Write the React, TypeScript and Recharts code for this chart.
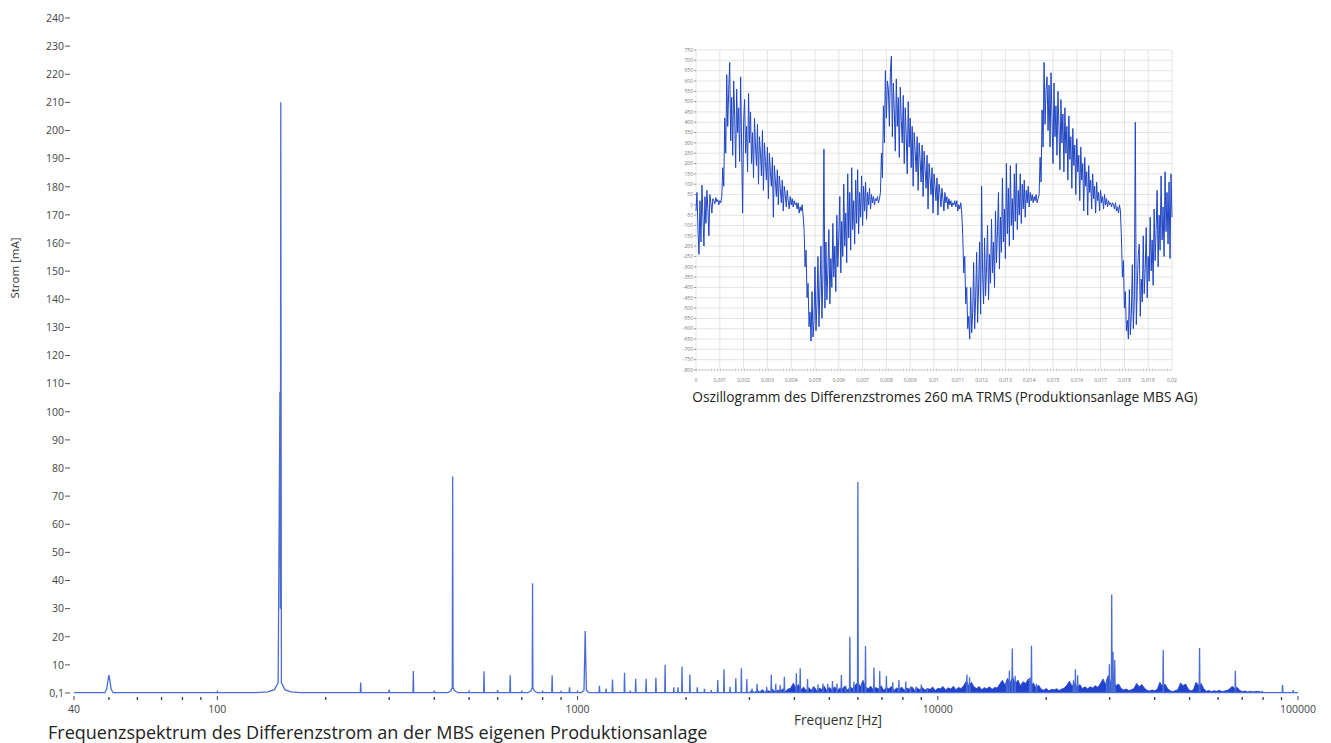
import { ComposedChart, LineChart, Line, Area, XAxis, YAxis, CartesianGrid } from 'recharts'

// Frequenzspektrum: Grundlinie bei ~0,1 mA, Oberschwingungen als Spitzen
const BASE = 0.1

const freqTicks = [
  40, 50, 60, 70, 80, 90, 100, 200, 300, 400, 500, 600, 700, 800, 900,
  1000, 2000, 3000, 4000, 5000, 6000, 7000, 8000, 9000,
  10000, 20000, 30000, 40000, 50000, 60000, 70000, 80000, 90000, 100000,
]
const freqLabels = [40, 100, 1000, 10000, 100000]
const currentTicks = [0, 10, 20, 30, 40, 50, 60, 70, 80, 90, 100, 110, 120, 130, 140, 150, 160, 170, 180, 190, 200, 210, 220, 230, 240]

const hump50 = [[48.7, 0.1], [49.3, 1.5], [49.7, 4.5], [50, 6.4], [50.3, 4.5], [50.7, 1.5], [51.3, 0.1]]
const hump150 = [[128, 0.1], [138, 0.4], [144, 1.2], [147.5, 3.6], [149.2, 107], [149.6, 30], [150, 210], [150.6, 3.6], [154, 1.2], [160, 0.4], [170, 0.1]]
const hump450 = [[436, 0.1], [445, 0.8], [449, 2], [450, 77], [451.2, 2], [456, 0.8], [466, 0.1]]
const hump750 = [[728, 0.1], [742, 0.8], [748.5, 2], [750, 39], [751.5, 2], [758, 0.8], [772, 0.1]]
const hump1050 = [[1025, 0.1], [1042, 1], [1050, 22], [1058, 1], [1075, 0.1]]

// schmale Spitzen [Hz, mA]
const harmonics = [
  [100, 0.5], [250, 3.7], [300, 1.2], [350, 7.8], [400, 0.8], [500, 0.6], [550, 7.7], [600, 1],
  [650, 6.3], [700, 0.8], [800, 0.5], [850, 6.3], [900, 0.5], [950, 2], [1000, 0.5],
  [1150, 2.6], [1200, 1.6], [1250, 4.8], [1350, 7.2], [1400, 0.8], [1450, 5.1], [1550, 5.1],
  [1650, 5.4], [1750, 10], [1850, 2], [1900, 2], [1950, 9.4], [2050, 6.6], [2150, 2], [2250, 1.5],
  [2350, 1], [2450, 4.6], [2550, 8.4], [2650, 2.2], [2750, 5.2], [2850, 8.8], [2950, 5], [3050, 1.6],
  [3150, 3.3], [3350, 2.2], [3450, 6.5], [3550, 3.3], [3650, 2.8], [3750, 5.8], [4050, 7], [4150, 8.8],
  [4350, 5], [4500, 2], [4650, 3], [4800, 3.4], [4950, 3.3], [5100, 4.3], [5250, 3.4], [5400, 6.4],
  [5550, 2.6], [5700, 20], [5850, 4], [6000, 75], [6150, 3.5], [6300, 16.7], [6650, 9.1], [6900, 7.8],
  [7200, 6], [7500, 3.8], [7800, 4.6], [8150, 4.1], [8400, 2.3], [8700, 2.3], [9000, 3], [9350, 1.8],
  [12050, 6.6], [12250, 5.6], [15550, 4.5], [15800, 7.9], [16100, 15.8], [16400, 6.1], [18000, 5.5],
  [18200, 16.8], [18800, 3.2], [23800, 4.5], [24100, 8.4], [24450, 6.3], [29450, 5], [29950, 10.2],
  [30400, 35], [30650, 14.7], [31000, 11.7], [42250, 15.3], [53300, 16], [67000, 7.9], [90600, 2.8], [97000, 1],
]

// Rauschteppich 3 kHz .. 80 kHz (mA)
const grassStart = 3000
const grassEnd = 80000
const grassAmp = [
  0.3, 0.8, 0.2, 1.0, 0.4, 1.2, 0.3, 0.9, 0.5, 1.3, 0.4, 1.0, 0.7, 1.5, 0.6, 1.4, 1.8,
  3.5, 1.8, 3.0,
  1.2, 2.1, 0.8, 1.9, 1.0, 2.3, 0.9, 1.7, 1.3, 2.4, 0.8, 2.0, 1.1, 2.2, 0.9, 1.8, 1.4, 2.5, 1.0, 2.1, 1.6, 2.8,
  3.8, 2.2, 4.5, 2.0,
  1.6, 2.4, 1.1, 2.0, 1.4, 2.6, 1.0, 1.9, 1.5, 2.3, 0.9, 1.8, 1.3, 2.1, 1.0, 1.7, 1.4, 2.2, 0.9, 1.8,
  1.2, 2.0, 1.0, 1.6, 1.3, 2.1, 0.9, 1.7, 1.5, 2.3, 1.1, 1.9, 1.4, 2.4, 1.2, 2.0, 1.6, 2.6,
  4.2, 2.6, 3.8, 2.2,
  1.6, 2.3, 1.2, 1.9, 1.5, 2.2, 1.3, 2.0, 1.8,
  3.2, 4.5, 2.8, 5.2, 3.6, 5.8, 3.0, 4.6, 2.6, 4.0, 3.4, 5.0, 2.4, 3.6, 1.8, 2.8,
  1.4, 1.0, 1.6, 0.8, 1.3, 1.1, 1.5, 0.9, 1.4, 1.8,
  2.8, 4.2, 2.4, 3.6, 2.0, 3.0, 1.6, 2.2,
  1.5, 2.2, 1.8, 2.6, 2.0,
  3.4, 5.0, 3.0, 6.2, 3.6, 4.4, 2.6, 3.2,
  1.6, 1.1, 1.4, 0.9, 1.2, 1.6,
  3.4, 2.2, 3.0, 1.8,
  1.0, 0.7, 1.1, 0.8, 1.3,
  3.8, 2.4, 3.2, 1.6,
  0.8, 0.5, 0.9, 1.2,
  3.6, 2.6, 3.2, 1.4,
  0.7, 1.2,
  3.8, 2.8, 3.4, 1.5,
  0.6, 0.9, 0.5, 0.8, 0.6, 1.0, 0.5, 0.7, 0.9, 1.4,
  2.4, 1.6, 2.0, 0.9,
  0.5, 0.7, 0.4, 0.6, 0.4, 0.5, 0.6, 0.4, 0.5,
]

// Oszillogramm 0 .. 20 ms, Differenzstrom in mA (481 Abtastwerte)
const oscDuration = 0.02
const oscValues = [
  // Ende der vorherigen Periode
  -30, 60, -120, -240, 20, -180, 95, -60, -200, 40, -90, 70, -20, -150, 50, 10, -40, 30, 20, 5, 35, 15, 25, 0, 20, 10,
  // Periode 1
  40, 180, 90, 420, 250, 630, 380, 560,
  690, 310, 520, 240, 600, 430, 180, 560, 350, 470, 210, 620, 290, -40, 400, 510, 250, 380, 160, 540,
  300, 450, 200, 350, 130, 420, 280, 190, 390, 100, 330, 250, 140, 360, 70, 300, 210, 120, 280, 30,
  250, 160, 90, 230, -60, 190, 120, 40, 170, 0, 140, 80, 10, 120, -30, 90, 50, -10, 70, 20, -20, 40,
  0, 30, -10, 20, 0, 10,
  -20, 10, -40, -10, -30, 0, -50,
  -120, -300, -220, -450, -380, -590, -520, -660,
  -420, -640, -560, -300, -610, -480, -250, -590, -400, -200, -550, -350, 270, -500, -180, -460, -320,
  -120, -480, -260, -400, -90, -350, -200, -420, -50, -300, -150, 40, -330, -80, -250, 100, -200, -40,
  -280, 150, -160, 60, -220, 180, -120, 20, -190, 120, -90, 170, -140, 60, -60, 140, -100, 90, -30,
  110, -70, 60, 0, 80, -20, 50, 10, 40, 0, 30, 20, 40, 10, 30,
  // Periode 2
  60, 250, 130, 480, 300, 650, 420, 600,
  560, 380, 640, 720, 330, 590, 450, 260, 610, 380, 520, 230, 570, 410, 300, 530, 200, 470, 340, 150,
  500, 280, 420, 180, 380, 90, 350, 260, 160, 330, 70, 300, 220, 110, 290, 40, 260, 170, 80, 240,
  -20, 200, 130, 50, 180, -40, 150, 90, 20, 130, -50, 100, 60, -10, 80, 30, -30, 60, 10, 40, -20, 30,
  0, 20, -10, 10, 0, 20,
  -10, 20, -30, 0, -20, 10, -40,
  -150, -330, -250, -480, -400, -600, -540, -650,
  -400, -620, -520, -280, -600, -450, -230, -570, -380, -180, -530, 90, -330, -480, -160, -440, -300,
  -100, -460, -240, -380, -70, -330, -180, -400, -30, -280, -130, 60, -310, -60, -230, 130, -180, -20,
  -260, 200, -140, 80, -200, 190, -100, 30, -170, 150, -80, 200, -120, 70, -50, 150, -90, 100, -20,
  120, -60, 70, 10, 90, -10, 60, 20, 50, 10, 40, 20, 50, 10, 30,
  // Periode 3
  50, 230, 110, 460, 280, 690, 390, 560,
  620, 360, 580, 280, 640, 420, 200, 590, 330, 480, 240, 550, 380, 170, 510, 300, 440, 160, 470, 250,
  380, 120, 430, 220, 330, 80, 370, 190, 290, 50, 320, 160, 240, 20, 280, 120, 200, -30, 230, 90,
  160, -50, 190, 60, 120, -20, 150, 30, 90, -40, 110, 20, 60, -30, 70, 10, 40, -20, 50, 0, 30, -10,
  20, 0, 10, -10, 10, 0,
  -20, 10, -30, -10, -40, 0, -30,
  -160, -350, -270, -500, -420, -610, -560, -650,
  -410, -630, -530, -290, -600, -460, 400, -580, -390, -240, -190, -540, -360, -470, -150, -430, -310,
  -110, -450, -250, -370, -60, -320, -170, -390, -20, -270, -120, 70, -300, -50, -220, 140, -170, -10,
  -250, 160, -130, 60, -190, 110, -260, 150, -60,
]
const oscTimeTicks = [
  0, 0.001, 0.002, 0.003, 0.004, 0.005, 0.006, 0.007, 0.008, 0.009, 0.01,
  0.011, 0.012, 0.013, 0.014, 0.015, 0.016, 0.017, 0.018, 0.019, 0.02,
]
const oscCurrentTicks = [
  750, 700, 650, 600, 550, 500, 450, 400, 350, 300, 250, 200, 150, 100, 50, 0,
  -50, -100, -150, -200, -250, -300, -350, -400, -450, -500, -550, -600, -650, -700, -750, -800,
]

const SPIKE = 1.0025

const spectrumData = [
  [40, BASE], [100000, BASE],
  ...hump50, ...hump150, ...hump450, ...hump750, ...hump1050,
  ...harmonics.flatMap(([f, a]) => [[f / SPIKE, BASE], [f, a], [f * SPIKE, BASE]]),
]
  .sort((a, b) => a[0] - b[0])
  .map(([f, v]) => ({ f, v }))

const grassData = grassAmp.map((v, k) => ({
  f: grassStart * Math.pow(grassEnd / grassStart, k / (grassAmp.length - 1)),
  v,
}))

const oscData = oscValues.map((v, i) => ({ t: (i * oscDuration) / (oscValues.length - 1), v }))

const FONT = '"Open Sans", "Noto Sans", sans-serif'

function CurrentTick({ x, y, payload }: any) {
  return (
    <g>
      <text x={x - 10} y={y} dy={3.8} textAnchor="end" fontSize={10.5} fill="#444">
        {payload.value === 0 ? '0,1' : payload.value}
      </text>
      <line x1={x - 9} x2={x - 4} y1={y} y2={y} stroke="#555" />
    </g>
  )
}

function FreqTick({ x, y, payload }: any) {
  const major = freqLabels.includes(payload.value)
  return (
    <g>
      <line x1={x} x2={x} y1={y + (major ? 3 : 4)} y2={y + 7} stroke="#444" strokeWidth={major ? 1 : 1.4} />
      {major && (
        <text x={x} y={y + 20} textAnchor="middle" fontSize={10.5} fill="#444">
          {payload.value}
        </text>
      )}
    </g>
  )
}

const fmtTime = (t: number) => (t === 0 ? '0' : String(+t.toFixed(3)).replace('.', ','))

export default function App() {
  return (
    <div style={{ position: 'absolute', left: 0, top: 0, width: 1331, height: 743, overflow: 'hidden', background: '#fff', fontFamily: FONT }}>
      <ComposedChart width={1331} height={743} margin={{ top: 18, right: 33, bottom: 0, left: 0 }}>
        <XAxis
          dataKey="f"
          type="number"
          scale="log"
          domain={[40, 100000]}
          allowDataOverflow
          ticks={freqTicks}
          interval={0}
          height={50}
          axisLine={false}
          tickLine={false}
          tickSize={0}
          tickMargin={0}
          tick={<FreqTick />}
        />
        <YAxis
          type="number"
          domain={[0, 240]}
          ticks={currentTicks}
          interval={0}
          width={74}
          axisLine={false}
          tickLine={false}
          tickSize={0}
          tickMargin={0}
          tick={<CurrentTick />}
        />
        <Line data={spectrumData} dataKey="v" type="linear" stroke="#4a6cd5" strokeWidth={1.3} dot={false} isAnimationActive={false} />
        <Area data={grassData} dataKey="v" type="linear" stroke="#2242cc" strokeWidth={0.8} fill="#2242cc" fillOpacity={1} dot={false} isAnimationActive={false} />
      </ComposedChart>

      <div style={{ position: 'absolute', left: 660, top: 40 }}>
        <LineChart width={520} height={350} data={oscData} margin={{ top: 10, right: 8, bottom: 0, left: 0 }}>
          <CartesianGrid stroke="#dddddd" strokeWidth={0.8} />
          <XAxis
            dataKey="t"
            type="number"
            domain={[0, 0.02]}
            ticks={oscTimeTicks}
            interval={0}
            height={20}
            tickFormatter={fmtTime}
            tick={{ fontSize: 5, fill: '#777' }}
            tickLine={false}
            tickMargin={2}
            axisLine={{ stroke: '#999', strokeDasharray: '1 2' }}
          />
          <YAxis
            type="number"
            domain={[-800, 750]}
            ticks={oscCurrentTicks}
            interval={0}
            width={36}
            tick={{ fontSize: 5, fill: '#777' }}
            tickSize={2}
            tickMargin={1}
            tickLine={{ stroke: '#999' }}
            axisLine={false}
          />
          <Line dataKey="v" type="linear" stroke="#1f45c4" strokeWidth={1} dot={false} isAnimationActive={false} />
        </LineChart>
      </div>

      <div style={{ position: 'absolute', left: 945, top: 390, transform: 'translateX(-50%)', fontSize: 13.7, lineHeight: 1, color: '#222', whiteSpace: 'nowrap' }}>
        Oszillogramm des Differenzstromes 260 mA TRMS (Produktionsanlage MBS AG)
      </div>
      <div style={{ position: 'absolute', left: 15, top: 268, transform: 'translate(-50%, -50%) rotate(-90deg)', fontSize: 11.5, lineHeight: 1, color: '#333', whiteSpace: 'nowrap' }}>
        Strom [mA]
      </div>
      <div style={{ position: 'absolute', left: 838, top: 713, transform: 'translateX(-50%)', fontSize: 13.6, lineHeight: 1, color: '#333', whiteSpace: 'nowrap' }}>
        Frequenz [Hz]
      </div>
      <div style={{ position: 'absolute', left: 48, top: 723, fontSize: 18, lineHeight: 1, color: '#222', whiteSpace: 'nowrap' }}>
        Frequenzspektrum des Differenzstrom an der MBS eigenen Produktionsanlage
      </div>
    </div>
  )
}
